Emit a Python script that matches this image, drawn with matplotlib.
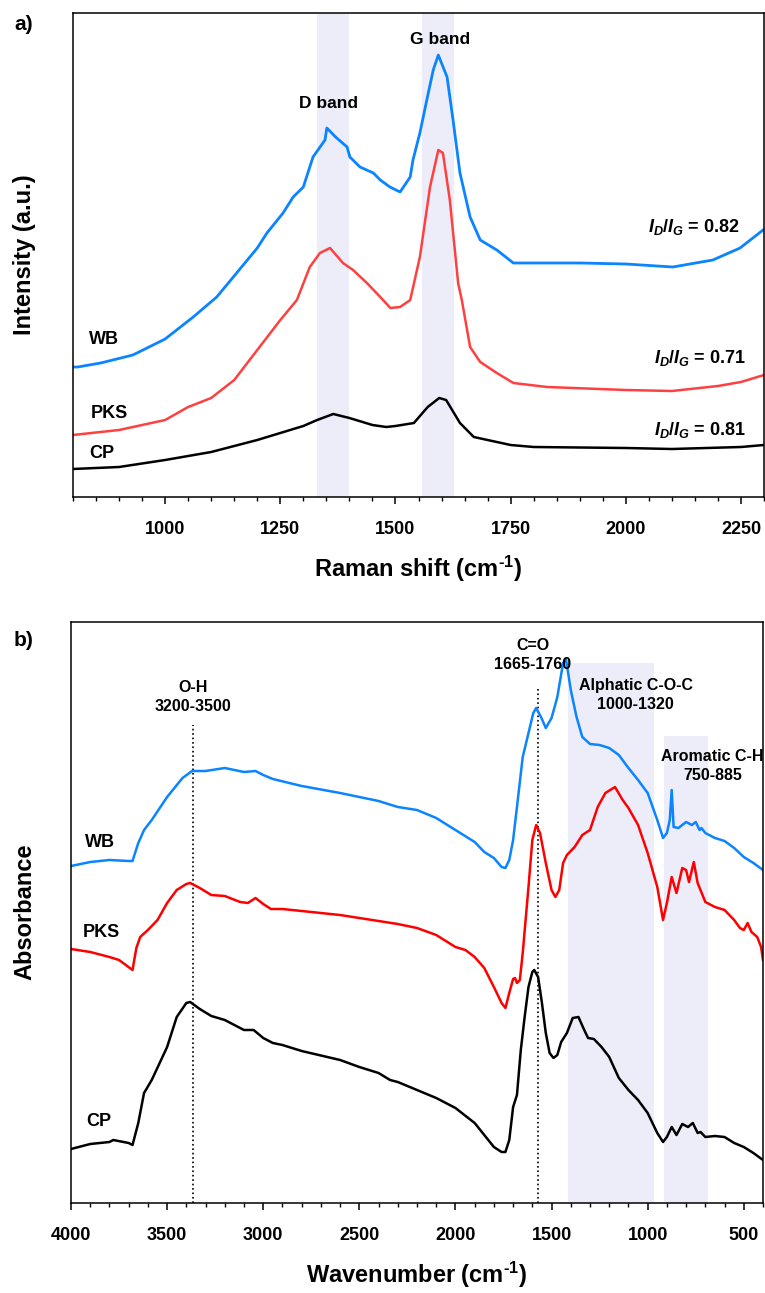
import matplotlib
matplotlib.use('Agg')
import matplotlib.pyplot as plt
from matplotlib.ticker import MultipleLocator

plt.rcParams['font.family'] = ['Liberation Sans', 'DejaVu Sans']
plt.rcParams['font.weight'] = 'bold'
plt.rcParams['mathtext.fontset'] = 'custom'
plt.rcParams['mathtext.rm'] = 'Liberation Sans:bold'
plt.rcParams['mathtext.it'] = 'Liberation Sans:italic:bold'
plt.rcParams['mathtext.bf'] = 'Liberation Sans:bold'
plt.rcParams['mathtext.default'] = 'rm'

# ---------------------------------------------------------------------------
# Raman data (a.u., stacked offsets as drawn)
# ---------------------------------------------------------------------------
raman_wb_x = [800, 810, 860, 930, 1000, 1061, 1112, 1148, 1200, 1221, 1256, 1278,
              1300, 1321, 1347, 1351, 1370, 1395, 1401, 1423, 1452, 1467, 1488,
              1510, 1532, 1538, 1553, 1568, 1582, 1593, 1612, 1625, 1640, 1662,
              1684, 1720, 1756, 1800, 1901, 2000, 2102, 2189, 2248, 2298]
raman_wb_y = [130, 130, 134, 142, 158, 180, 200, 220, 249, 264, 284, 300,
              310, 340, 357, 369, 360, 350, 340, 330, 324, 317, 310,
              305, 320, 337, 364, 397, 427, 442, 420, 377, 324, 280,
              257, 247, 234, 234, 234, 233, 230, 237, 249, 267]

raman_pks_x = [800, 900, 1000, 1050, 1100, 1150, 1200, 1250, 1286, 1314, 1336,
               1358, 1386, 1408, 1438, 1467, 1489, 1510, 1532, 1553, 1575, 1593,
               1603, 1618, 1636, 1644, 1662, 1684, 1720, 1756, 1829, 2000, 2100,
               2200, 2250, 2300]
raman_pks_y = [62, 67, 77, 90, 99, 117, 147, 177, 197, 230, 244,
               249, 234, 227, 214, 200, 189, 190, 197, 240, 310, 347,
               344, 297, 214, 197, 150, 135, 124, 114, 110, 107, 106,
               111, 115, 122]

raman_cp_x = [800, 900, 1000, 1050, 1100, 1150, 1200, 1250, 1300, 1330, 1365,
              1400, 1450, 1480, 1500, 1540, 1570, 1595, 1610, 1640, 1670, 1700,
              1750, 1800, 2000, 2100, 2250, 2300]
raman_cp_y = [28, 30, 37, 41, 45, 51, 57, 64, 71, 77, 83,
              79, 72, 70, 71, 74, 90, 99, 97, 74, 60, 57,
              52, 50, 49, 48, 50, 52]

raman_bands = [(1330, 1400), (1558, 1628)]

# ---------------------------------------------------------------------------
# FTIR data (absorbance a.u., stacked offsets as drawn)
# ---------------------------------------------------------------------------
ftir_wb_x = [4000, 3900, 3800, 3700, 3680, 3650, 3620, 3580, 3500, 3420, 3370,
             3300, 3200, 3100, 3040, 3000, 2950, 2800, 2600, 2500, 2400, 2300,
             2200, 2100, 2000, 1900, 1850, 1800, 1760, 1740, 1720, 1700, 1680,
             1650, 1620, 1595, 1580, 1555, 1530, 1500, 1470, 1440, 1425, 1400,
             1370, 1340, 1300, 1250, 1200, 1150, 1100, 1050, 1000, 950, 920,
             900, 885, 875, 865, 840, 800, 770, 750, 730, 720, 700, 650, 600,
             550, 500, 450, 400]
ftir_wb_y = [337, 341, 343, 342, 342, 360, 373, 383, 406, 425, 432,
             432, 435, 431, 432, 428, 424, 417, 410, 406, 402, 396,
             393, 385, 373, 361, 351, 345, 336, 335, 343, 363, 396,
             446, 470, 490, 495, 486, 475, 485, 506, 540, 544, 513,
             486, 466, 459, 458, 455, 448, 435, 423, 410, 383, 365,
             370, 383, 413, 376, 375, 381, 378, 381, 373, 375, 370, 365, 362,
             355, 346, 340, 333]

ftir_pks_x = [4000, 3900, 3800, 3750, 3680, 3660, 3640, 3600, 3550, 3500, 3450,
              3400, 3380, 3330, 3270, 3200, 3120, 3080, 3040, 3000, 2960, 2900,
              2800, 2600, 2400, 2300, 2200, 2100, 2000, 1948, 1900, 1850, 1800,
              1760, 1740, 1720, 1700, 1690, 1680, 1665, 1650, 1620, 1600, 1580,
              1560, 1530, 1500, 1480, 1460, 1440, 1420, 1380, 1340, 1300, 1260,
              1220, 1170, 1130, 1100, 1050, 1000, 950, 920, 900, 875, 850, 820,
              800, 785, 760, 740, 700, 650, 600, 550, 520, 500, 480, 460, 430,
              410, 400]
ftir_pks_y = [254, 251, 246, 243, 233, 255, 266, 273, 283, 300, 313,
              319, 320, 315, 308, 307, 301, 300, 305, 299, 294, 294,
              292, 288, 282, 279, 275, 268, 256, 253, 246, 235, 216,
              200, 195, 210, 224, 225, 220, 223, 250, 316, 363, 378,
              370, 340, 313, 306, 313, 340, 348, 356, 368, 373, 396,
              410, 416, 403, 395, 378, 350, 316, 283, 300, 326, 310, 335,
              333, 321, 341, 320, 301, 296, 293, 283, 275, 273, 280, 271, 266,
              256, 243]

ftir_cp_x = [4000, 3900, 3800, 3780, 3700, 3680, 3650, 3620, 3580, 3500, 3450,
             3400, 3380, 3330, 3270, 3200, 3100, 3050, 3000, 2950, 2900, 2800,
             2600, 2500, 2400, 2340, 2300, 2200, 2100, 2000, 1900, 1850, 1800,
             1760, 1740, 1720, 1700, 1680, 1660, 1640, 1620, 1600, 1590, 1570,
             1550, 1530, 1510, 1490, 1470, 1450, 1420, 1390, 1360, 1330, 1310,
             1280, 1240, 1200, 1150, 1100, 1050, 1000, 950, 920, 900, 875, 850,
             820, 790, 765, 740, 725, 700, 650, 600, 550, 500, 450, 400]
ftir_cp_y = [54, 59, 61, 63, 60, 58, 80, 110, 123, 156, 186,
             200, 201, 194, 187, 183, 173, 173, 165, 160, 158, 152,
             143, 136, 130, 123, 121, 113, 105, 95, 80, 68, 56,
             51, 51, 63, 96, 108, 153, 186, 216, 231, 233, 226,
             200, 170, 150, 145, 148, 161, 170, 185, 186, 173, 165,
             164, 156, 146, 125, 113, 103, 90, 70, 61, 66, 76, 68,
             79, 76, 80, 70, 71, 66, 67, 66, 60, 56, 50, 43]

# annotated regions: (lo, hi, top of shading)
ftir_regions = [(969, 1417, 540), (688, 917, 467)]
ftir_markers = [(3365, 478), (1573, 515)]

BLUE = '#0a84ff'
SHADE = '#ededfa'
RATIO = r'$\mathit{I}_{\mathit{D}}/\mathit{I}_{\mathit{G}}$'
CM = r'(cm$^{\text{-1}}$)'


def style_axis(ax):
    for sp in ax.spines.values():
        sp.set_linewidth(1.1)
    ax.tick_params(axis='x', which='major', direction='out', length=5, width=1.1,
                   labelsize=13, pad=12)
    ax.tick_params(axis='x', which='minor', direction='out', length=3, width=1.0)
    ax.tick_params(axis='y', which='both', left=False, labelleft=False)
    for lab in ax.get_xticklabels():
        lab.set_fontweight('bold')


fig = plt.figure(figsize=(7.65, 12.93), dpi=100)

# --- a) Raman ---
ax = fig.add_axes([73 / 765, 1 - 497 / 1293, 691 / 765, 484 / 1293])
for lo, hi in raman_bands:
    ax.axvspan(lo, hi, color=SHADE, lw=0, zorder=0)
ax.plot(raman_wb_x, raman_wb_y, color=BLUE, lw=2.0)
ax.plot(raman_pks_x, raman_pks_y, color='#ff4040', lw=1.8)
ax.plot(raman_cp_x, raman_cp_y, color='black', lw=1.8)
ax.set_xlim(800, 2300)
ax.set_ylim(0, 484)
ax.set_xticks([1000, 1250, 1500, 1750, 2000, 2250])
ax.xaxis.set_minor_locator(MultipleLocator(50))
style_axis(ax)
ax.set_xlabel('Raman shift ' + CM, fontsize=17, fontweight='bold', labelpad=12)

ax.text(1354, 394, 'D band', fontsize=12.5, fontweight='bold', ha='center', va='center')
ax.text(1597, 457, 'G band', fontsize=12.5, fontweight='bold', ha='center', va='center')
ax.text(835, 157, 'WB', fontsize=13, fontweight='bold', ha='left', va='center')
ax.text(839, 84, 'PKS', fontsize=13, fontweight='bold', ha='left', va='center')
ax.text(835, 43, 'CP', fontsize=13, fontweight='bold', ha='left', va='center')
ax.text(2248, 270, RATIO + ' = 0.82', fontsize=13, ha='right', va='center')
ax.text(2261, 139, RATIO + ' = 0.71', fontsize=13, ha='right', va='center')
ax.text(2261, 67, RATIO + ' = 0.81', fontsize=13, ha='right', va='center')

fig.text(14 / 765, 1 - 25 / 1293, 'a)', fontsize=15, fontweight='bold', ha='left', va='center')
fig.text(25 / 765, 1 - 255 / 1293, 'Intensity (a.u.)', fontsize=17, fontweight='bold',
         rotation=90, ha='center', va='center')

# --- b) FTIR ---
ax = fig.add_axes([71 / 765, 1 - 1203 / 1293, 692 / 765, 581 / 1293])
for lo, hi, top in ftir_regions:
    ax.fill_between([lo, hi], 0, top, color=SHADE, lw=0, zorder=0)
for x, top in ftir_markers:
    ax.vlines(x, 0, top, colors='black', linestyles=':', lw=1.2, zorder=1)
ax.plot(ftir_wb_x, ftir_wb_y, color=BLUE, lw=1.8)
ax.plot(ftir_pks_x, ftir_pks_y, color='#ff0000', lw=1.8)
ax.plot(ftir_cp_x, ftir_cp_y, color='black', lw=1.8)
ax.set_xlim(4000, 400)
ax.set_ylim(0, 581)
ax.set_xticks([4000, 3500, 3000, 2500, 2000, 1500, 1000, 500])
ax.xaxis.set_minor_locator(MultipleLocator(100))
style_axis(ax)
ax.set_xlabel('Wavenumber ' + CM, fontsize=17, fontweight='bold', labelpad=12)

ann = dict(fontsize=11.5, fontweight='bold', ha='center', va='center', linespacing=1.3)
ax.text(3365, 506, 'O-H\n3200-3500', **ann)
ax.text(1599, 548, 'C=O\n1665-1760', **ann)
ax.text(1063, 508, 'Alphatic C-O-C\n1000-1320', **ann)
ax.text(662, 437, 'Aromatic C-H\n750-885', **ann)
ax.text(3927, 361, 'WB', fontsize=13, fontweight='bold', ha='left', va='center')
ax.text(3937, 271, 'PKS', fontsize=13, fontweight='bold', ha='left', va='center')
ax.text(3922, 81, 'CP', fontsize=13, fontweight='bold', ha='left', va='center')

fig.text(14 / 765, 1 - 640 / 1293, 'b)', fontsize=15, fontweight='bold', ha='left', va='center')
fig.text(25 / 765, 1 - 912 / 1293, 'Absorbance', fontsize=17, fontweight='bold',
         rotation=90, ha='center', va='center')

fig.savefig('out.png', dpi=100)
